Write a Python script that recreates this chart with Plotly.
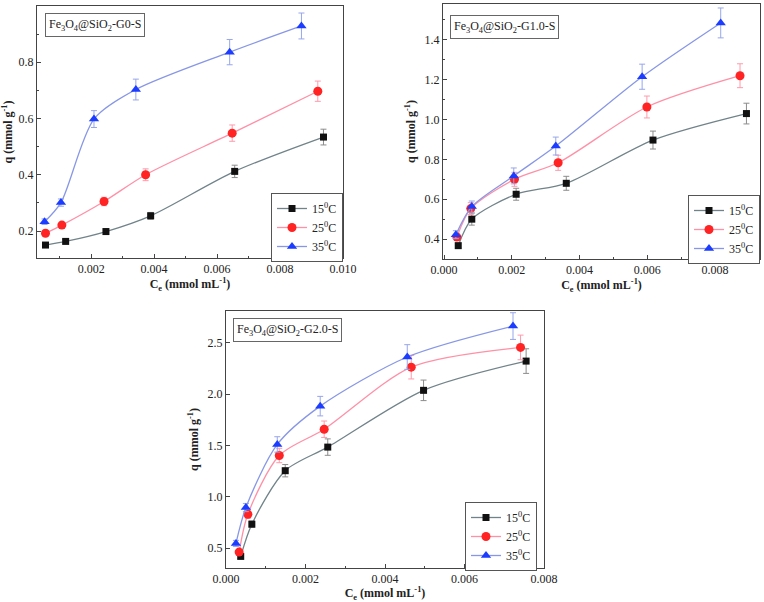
import plotly.graph_objects as go

# ---------------- data ----------------
labels = ["15<sup>0</sup>C", "25<sup>0</sup>C", "35<sup>0</sup>C"]
titles = ["Fe<sub>3</sub>O<sub>4</sub>@SiO<sub>2</sub>-G0-S",
          "Fe<sub>3</sub>O<sub>4</sub>@SiO<sub>2</sub>-G1.0-S",
          "Fe<sub>3</sub>O<sub>4</sub>@SiO<sub>2</sub>-G2.0-S"]

# Panel 1 (G0)
g0_x15 = [0.00055, 0.00119, 0.00247, 0.00389, 0.00656, 0.00938]
g0_y15 = [0.150, 0.163, 0.198, 0.254, 0.412, 0.534]
g0_e15 = [0.006, 0.007, 0.010, 0.012, 0.022, 0.028]
g0_x25 = [0.00055, 0.00107, 0.00241, 0.00373, 0.00648, 0.00920]
g0_y25 = [0.192, 0.221, 0.305, 0.400, 0.548, 0.697]
g0_e25 = [0.008, 0.010, 0.015, 0.021, 0.029, 0.036]
g0_x35 = [0.00052, 0.00104, 0.00209, 0.00342, 0.00640, 0.00868]
g0_y35 = [0.233, 0.301, 0.598, 0.703, 0.836, 0.929]
g0_e35 = [0.010, 0.013, 0.030, 0.037, 0.045, 0.046]

# Panel 2 (G1.0)
g1_x15 = [0.00042, 0.00082, 0.00213, 0.00361, 0.00617, 0.00893]
g1_y15 = [0.367, 0.500, 0.625, 0.680, 0.897, 1.030]
g1_e15 = [0.012, 0.030, 0.030, 0.035, 0.045, 0.052]
g1_x25 = [0.00038, 0.00079, 0.00208, 0.00337, 0.00599, 0.00874]
g1_y25 = [0.410, 0.553, 0.700, 0.783, 1.063, 1.220]
g1_e25 = [0.015, 0.030, 0.035, 0.038, 0.055, 0.060]
g1_x35 = [0.00035, 0.00082, 0.00206, 0.00330, 0.00585, 0.00817]
g1_y35 = [0.422, 0.563, 0.717, 0.867, 1.215, 1.485]
g1_e35 = [0.020, 0.028, 0.040, 0.045, 0.063, 0.075]

# Panel 3 (G2.0)
g2_x15 = [0.00037, 0.00065, 0.00149, 0.00256, 0.00497, 0.00755]
g2_y15 = [0.419, 0.733, 1.254, 1.484, 2.037, 2.322]
g2_e15 = [0.020, 0.030, 0.060, 0.080, 0.100, 0.120]
g2_x25 = [0.00033, 0.00055, 0.00134, 0.00247, 0.00466, 0.00741]
g2_y25 = [0.461, 0.830, 1.402, 1.658, 2.263, 2.455]
g2_e25 = [0.020, 0.040, 0.070, 0.080, 0.115, 0.120]
g2_x35 = [0.00025, 0.00050, 0.00129, 0.00237, 0.00456, 0.00722]
g2_y35 = [0.545, 0.895, 1.510, 1.883, 2.362, 2.663]
g2_e35 = [0.030, 0.040, 0.075, 0.095, 0.120, 0.130]

panels = [
    [(g0_x15, g0_y15, g0_e15), (g0_x25, g0_y25, g0_e25), (g0_x35, g0_y35, g0_e35)],
    [(g1_x15, g1_y15, g1_e15), (g1_x25, g1_y25, g1_e25), (g1_x35, g1_y35, g1_e35)],
    [(g2_x15, g2_y15, g2_e15), (g2_x25, g2_y25, g2_e25), (g2_x35, g2_y35, g2_e35)],
]

# ---------------- styles ----------------
W, H = 764, 602
SERIF = "Liberation Serif, Times New Roman, serif"
marker_colors = ["#111111", "#ff2323", "#1c3cff"]
line_colors = ["#71838a", "#ff90a6", "#8797e6"]
err_colors = ["#8c8c8c", "#ff9aab", "#97a6ea"]
symbols = ["square", "circle", "triangle-up"]
msizes = [7, 9, 9]

# frame pixel boxes: (left, right, top, bottom)
boxes = [(37, 343, 6, 258), (443, 760, 4, 259), (226, 544, 311, 568)]
xranges = [[0.00028, 0.0100], [-0.00003, 0.00933], [0.0, 0.0080]]
yranges = [[0.104, 1.0], [0.30, 1.58], [0.306, 2.81]]
xdticks = [0.002, 0.002, 0.002]
ydticks = [0.2, 0.2, 0.5]
legend_boxes = [(343, 193), (760, 195), (537, 502)]   # top-right px
title_pos = [(45, 13), (450, 15), (233, 318)]

fig = go.Figure()

def px_x(p):
    return p / W

def px_y(p):
    return 1 - p / H

for i, series in enumerate(panels):
    xa = "x" if i == 0 else f"x{i+1}"
    ya = "y" if i == 0 else f"y{i+1}"
    lg = "legend" if i == 0 else f"legend{i+1}"
    for j, (xs, ys, es) in enumerate(series):
        fig.add_trace(go.Scatter(
            x=xs, y=ys, xaxis=xa, yaxis=ya, legend=lg,
            mode="lines+markers", name=labels[j],
            line=dict(color=line_colors[j], width=1.3, shape="spline", smoothing=0.8),
            marker=dict(symbol=symbols[j], size=msizes[j], color=marker_colors[j]),
            error_y=dict(type="data", array=es, visible=True,
                         color=err_colors[j], thickness=1, width=3),
        ))

layout = dict(width=W, height=H, margin=dict(l=0, r=0, t=0, b=0),
              paper_bgcolor="white", plot_bgcolor="white",
              font=dict(family=SERIF, size=11, color="#222"),
              showlegend=True)

axis_common = dict(showline=True, mirror=True, linecolor="#444", linewidth=1,
                   ticks="inside", ticklen=4, tickcolor="#444", showgrid=False,
                   zeroline=False, automargin=False,
                   tickfont=dict(family=SERIF, size=12, color="#222"),
                   minor=dict(ticks="inside", ticklen=2, tickcolor="#444", nticks=2))

for i in range(3):
    l, r, t, b = boxes[i]
    sx = "" if i == 0 else str(i + 1)
    layout[f"xaxis{sx}"] = dict(axis_common, domain=[px_x(l), px_x(r)],
                                range=xranges[i], dtick=xdticks[i], tick0=0,
                                tickformat=".3f", anchor=f"y{sx}",
                                title=dict(text="<b>C<sub>e</sub> (mmol mL<sup>-1</sup>)</b>",
                                           font=dict(family=SERIF, size=12), standoff=2))
    layout[f"yaxis{sx}"] = dict(axis_common, domain=[px_y(b), px_y(t)],
                                range=yranges[i], dtick=ydticks[i],
                                tickformat=".1f", anchor=f"x{sx}",
                                title=dict(text="<b>q (mmol g<sup>-1</sup>)</b>",
                                           font=dict(family=SERIF, size=12), standoff=6))
    lx, ly = legend_boxes[i]
    lname = "legend" if i == 0 else f"legend{i+1}"
    layout[lname] = dict(x=px_x(lx), y=px_y(ly), xanchor="right", yanchor="top",
                         bgcolor="white", bordercolor="#555", borderwidth=1,
                         font=dict(family=SERIF, size=12, color="#222"),
                         tracegroupgap=0, itemwidth=30)

fig.update_layout(**layout)

for i in range(3):
    tx, ty = title_pos[i]
    fig.add_annotation(xref="paper", yref="paper", x=px_x(tx), y=px_y(ty),
                       xanchor="left", yanchor="top", showarrow=False,
                       text=titles[i], font=dict(family=SERIF, size=12, color="#222"),
                       bordercolor="#666", borderwidth=1, borderpad=3, bgcolor="white")

fig.write_html("out.html", config={"displayModeBar": False},
               post_script="document.body.style.margin='0';document.body.style.overflow='hidden';")
